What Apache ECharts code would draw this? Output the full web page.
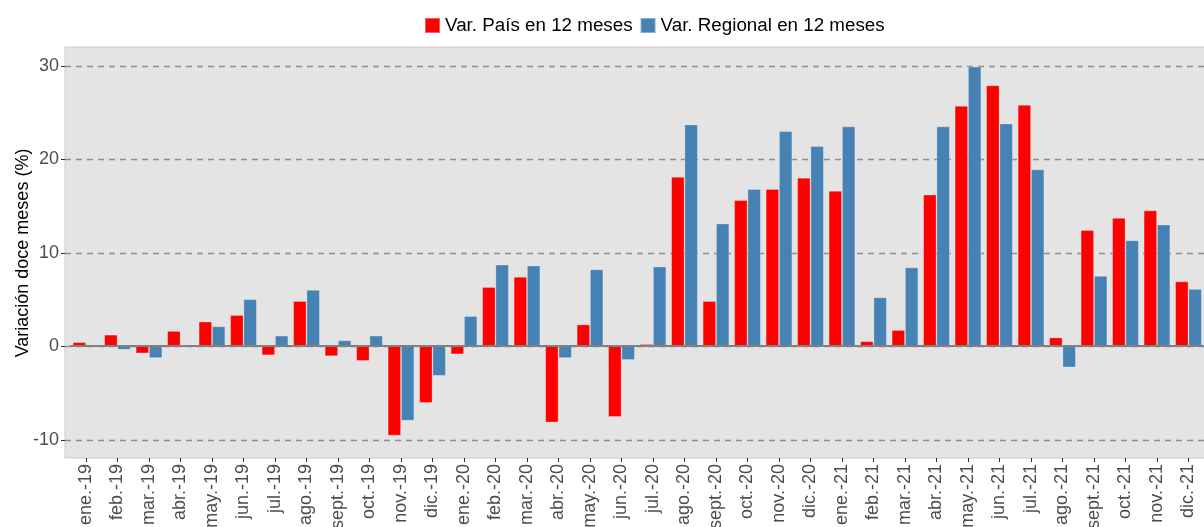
<!DOCTYPE html>
<html>
<head>
<meta charset="utf-8">
<script src="https://cdn.jsdelivr.net/npm/echarts@6/dist/echarts.min.js"></script>
<style>
  html, body { margin: 0; padding: 0; background: #fff; }
  #chart { width: 1204px; height: 527px; }
</style>
</head>
<body>
<div id="chart"></div>
<script>
// meses (eje x)
var meses = ['ene.-19', 'feb.-19', 'mar.-19', 'abr.-19', 'may.-19', 'jun.-19', 'jul.-19', 'ago.-19', 'sept.-19', 'oct.-19', 'nov.-19', 'dic.-19',
             'ene.-20', 'feb.-20', 'mar.-20', 'abr.-20', 'may.-20', 'jun.-20', 'jul.-20', 'ago.-20', 'sept.-20', 'oct.-20', 'nov.-20', 'dic.-20',
             'ene.-21', 'feb.-21', 'mar.-21', 'abr.-21', 'may.-21', 'jun.-21', 'jul.-21', 'ago.-21', 'sept.-21', 'oct.-21', 'nov.-21', 'dic.-21'];
// variacion pais en 12 meses
var varPais = [0.4, 1.2, -0.8, 1.6, 2.6, 3.3, -1.0, 4.8, -1.1, -1.6, -9.6, -6.1,
               -0.9, 6.3, 7.4, -8.2, 2.3, -7.6, 0.2, 18.1, 4.8, 15.6, 16.8, 18.0,
               16.6, 0.5, 1.7, 16.2, 25.7, 27.9, 25.8, 0.9, 12.4, 13.7, 14.5, 6.9];
// variacion regional en 12 meses
var varRegional = [null, -0.4, -1.3, null, 2.1, 5.0, 1.1, 6.0, 0.6, 1.1, -8.0, -3.2,
                   3.2, 8.7, 8.6, -1.3, 8.2, -1.5, 8.5, 23.7, 13.1, 16.8, 23.0, 21.4,
                   23.5, 5.2, 8.4, 23.5, 29.9, 23.8, 18.9, -2.3, 7.5, 11.3, 13.0, 6.1];
// marcas del eje y
var yTicks = { min: -10, max: 30, step: 10 };

var chart = echarts.init(document.getElementById('chart'));
var fuente = 'Liberation Sans, Arial, sans-serif';

var option = {
    animation: false,
    textStyle: { fontFamily: fuente },
    legend: {
        left: 424,
        top: 16,
        padding: 0,
        itemWidth: 15,
        itemHeight: 15,
        itemGap: 7,
        icon: 'rect',
        textStyle: { fontSize: 18.8, color: '#000', fontFamily: fuente },
        data: ['Var. País en 12 meses', 'Var. Regional en 12 meses']
    },
    grid: [
        // datos
        { left: 70.25, right: -0.25, top: 47, bottom: 69, outerBoundsMode: 'none' },
        // panel gris de fondo
        { left: 65, right: -10, top: 47, bottom: 69, show: true, outerBoundsMode: 'none',
          backgroundColor: '#E4E4E4', borderColor: '#CCCCCC', borderWidth: 1 },
        // lineas guia del eje y
        { left: 65, right: -10, top: 66, bottom: 87, outerBoundsMode: 'none' }
    ],
    xAxis: [
        {
            type: 'category',
            gridIndex: 0,
            data: meses,
            axisLine: { show: false, onZero: false },
            axisTick: { show: true, alignWithLabel: true, length: 4, lineStyle: { color: '#333' } },
            axisLabel: { rotate: 90, margin: 6, fontSize: 18, color: '#4D4D4D', interval: 0 }
        },
        { type: 'value', gridIndex: 1, show: false },
        { type: 'value', gridIndex: 2, show: false }
    ],
    yAxis: [
        { type: 'value', gridIndex: 0, min: -12, max: 32, show: false },
        { type: 'value', gridIndex: 1, show: false },
        {
            type: 'value',
            gridIndex: 2,
            min: yTicks.min,
            max: yTicks.max,
            interval: yTicks.step,
            name: 'Variación doce meses (%)',
            nameLocation: 'middle',
            nameGap: 33,
            nameMoveOverlap: false,
            nameTextStyle: { fontSize: 18, color: '#000' },
            axisLine: { show: false },
            axisTick: { show: true, length: 4, lineStyle: { color: '#333' } },
            axisLabel: { margin: 6, fontSize: 18, color: '#4D4D4D' },
            splitLine: { show: true, lineStyle: { color: '#8C8C8C', width: 1.3, type: [6, 5] } }
        }
    ],
    series: [
        {
            name: 'Var. País en 12 meses',
            type: 'bar',
            xAxisIndex: 0,
            yAxisIndex: 0,
            data: varPais,
            barWidth: 13.3,
            barGap: '0%',
            itemStyle: { color: '#FF0000', borderColor: 'rgba(255,255,255,0.35)', borderWidth: 0.8 },
            markLine: {
                silent: true,
                symbol: 'none',
                label: { show: false },
                lineStyle: { color: '#808080', width: 2, type: 'solid' },
                data: [{ yAxis: 0 }]
            }
        },
        {
            name: 'Var. Regional en 12 meses',
            type: 'bar',
            xAxisIndex: 0,
            yAxisIndex: 0,
            data: varRegional,
            barWidth: 13.3,
            barGap: '0%',
            itemStyle: { color: '#4682B4', borderColor: 'rgba(255,255,255,0.35)', borderWidth: 0.8 }
        }
    ]
};

chart.setOption(option);
</script>
</body>
</html>
